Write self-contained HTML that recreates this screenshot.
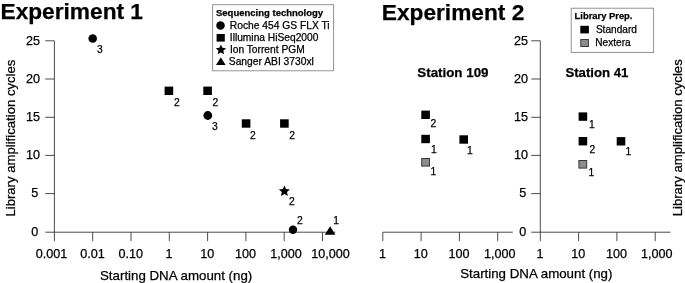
<!DOCTYPE html>
<html><head><meta charset="utf-8"><title>Experiment 1 / Experiment 2</title>
<style>html,body{margin:0;padding:0;background:#fff}svg{display:block}</style>
</head><body>
<svg width="685" height="283" viewBox="0 0 685 283" font-family="'Liberation Sans', sans-serif" fill="#000">
<rect width="685" height="283" fill="#fff"/>
<text x="0.50" y="19.40" font-size="22.7" text-anchor="start" font-weight="bold" stroke="#000" stroke-width="0.25" >Experiment 1</text>
<text x="381.80" y="19.60" font-size="22.7" text-anchor="start" font-weight="bold" stroke="#000" stroke-width="0.25" >Experiment 2</text>
<g stroke="#2a2a2a" stroke-width="0.85" fill="none">
<path d="M54.4 40.8 V232.2 M54.4 232.2 H335.5"/>
<path d="M45.3 40.8 H54.4"/>
<path d="M45.3 79.0 H54.4"/>
<path d="M45.3 117.3 H54.4"/>
<path d="M45.3 155.4 H54.4"/>
<path d="M45.3 193.6 H54.4"/>
<path d="M45.3 232.2 H54.4"/>
<path d="M54.40 232.2 V241.1"/>
<path d="M92.70 232.2 V241.1"/>
<path d="M131.00 232.2 V241.1"/>
<path d="M169.30 232.2 V241.1"/>
<path d="M207.60 232.2 V241.1"/>
<path d="M245.90 232.2 V241.1"/>
<path d="M284.20 232.2 V241.1"/>
<path d="M322.50 232.2 V241.1"/>
<path d="M540.3 40.8 V232.2 M540.3 232.2 H670.5"/>
<path d="M531.3 40.8 H540.3"/>
<path d="M531.3 79.0 H540.3"/>
<path d="M531.3 117.3 H540.3"/>
<path d="M531.3 155.4 H540.3"/>
<path d="M531.3 193.6 H540.3"/>
<path d="M531.3 232.2 H540.3"/>
<path d="M382.8 232.2 H512.8"/>
<path d="M382.80 232.2 V241.1"/>
<path d="M421.10 232.2 V241.1"/>
<path d="M459.40 232.2 V241.1"/>
<path d="M497.70 232.2 V241.1"/>
<path d="M540.30 232.2 V241.1"/>
<path d="M578.60 232.2 V241.1"/>
<path d="M616.90 232.2 V241.1"/>
<path d="M655.20 232.2 V241.1"/>
</g>
<text x="39.90" y="44.80" font-size="12.6" text-anchor="end" font-weight="normal" stroke="#000" stroke-width="0.25" >25</text>
<text x="527.90" y="44.80" font-size="12.6" text-anchor="end" font-weight="normal" stroke="#000" stroke-width="0.25" >25</text>
<text x="39.90" y="83.00" font-size="12.6" text-anchor="end" font-weight="normal" stroke="#000" stroke-width="0.25" >20</text>
<text x="527.90" y="83.00" font-size="12.6" text-anchor="end" font-weight="normal" stroke="#000" stroke-width="0.25" >20</text>
<text x="39.90" y="121.20" font-size="12.6" text-anchor="end" font-weight="normal" stroke="#000" stroke-width="0.25" >15</text>
<text x="527.90" y="121.20" font-size="12.6" text-anchor="end" font-weight="normal" stroke="#000" stroke-width="0.25" >15</text>
<text x="39.90" y="159.20" font-size="12.6" text-anchor="end" font-weight="normal" stroke="#000" stroke-width="0.25" >10</text>
<text x="527.90" y="159.20" font-size="12.6" text-anchor="end" font-weight="normal" stroke="#000" stroke-width="0.25" >10</text>
<text x="38.30" y="197.30" font-size="12.6" text-anchor="end" font-weight="normal" stroke="#000" stroke-width="0.25" >5</text>
<text x="526.30" y="197.30" font-size="12.6" text-anchor="end" font-weight="normal" stroke="#000" stroke-width="0.25" >5</text>
<text x="38.30" y="235.90" font-size="12.6" text-anchor="end" font-weight="normal" stroke="#000" stroke-width="0.25" >0</text>
<text x="526.30" y="235.90" font-size="12.6" text-anchor="end" font-weight="normal" stroke="#000" stroke-width="0.25" >0</text>
<text x="51.40" y="257.60" font-size="12.6" text-anchor="middle" font-weight="normal" stroke="#000" stroke-width="0.25" >0.001</text>
<text x="92.40" y="257.60" font-size="12.6" text-anchor="middle" font-weight="normal" stroke="#000" stroke-width="0.25" >0.01</text>
<text x="130.70" y="257.60" font-size="12.6" text-anchor="middle" font-weight="normal" stroke="#000" stroke-width="0.25" >0.10</text>
<text x="169.00" y="257.60" font-size="12.6" text-anchor="middle" font-weight="normal" stroke="#000" stroke-width="0.25" >1</text>
<text x="207.30" y="257.60" font-size="12.6" text-anchor="middle" font-weight="normal" stroke="#000" stroke-width="0.25" >10</text>
<text x="245.60" y="257.60" font-size="12.6" text-anchor="middle" font-weight="normal" stroke="#000" stroke-width="0.25" >100</text>
<text x="285.90" y="257.60" font-size="12.6" text-anchor="middle" font-weight="normal" stroke="#000" stroke-width="0.25" >1,000</text>
<text x="330.50" y="257.60" font-size="12.6" text-anchor="middle" font-weight="normal" stroke="#000" stroke-width="0.25" >10,000</text>
<text x="382.50" y="257.60" font-size="12.6" text-anchor="middle" font-weight="normal" stroke="#000" stroke-width="0.25" >1</text>
<text x="540.00" y="257.60" font-size="12.6" text-anchor="middle" font-weight="normal" stroke="#000" stroke-width="0.25" >1</text>
<text x="420.80" y="257.60" font-size="12.6" text-anchor="middle" font-weight="normal" stroke="#000" stroke-width="0.25" >10</text>
<text x="578.30" y="257.60" font-size="12.6" text-anchor="middle" font-weight="normal" stroke="#000" stroke-width="0.25" >10</text>
<text x="459.10" y="257.60" font-size="12.6" text-anchor="middle" font-weight="normal" stroke="#000" stroke-width="0.25" >100</text>
<text x="616.60" y="257.60" font-size="12.6" text-anchor="middle" font-weight="normal" stroke="#000" stroke-width="0.25" >100</text>
<text x="499.80" y="257.60" font-size="12.6" text-anchor="middle" font-weight="normal" stroke="#000" stroke-width="0.25" >1,000</text>
<text x="656.70" y="257.60" font-size="12.6" text-anchor="middle" font-weight="normal" stroke="#000" stroke-width="0.25" >1,000</text>
<text x="100.00" y="279.80" font-size="13.3" text-anchor="start" font-weight="normal" stroke="#000" stroke-width="0.25" >Starting DNA amount (ng)</text>
<text x="460.20" y="278.10" font-size="13.3" text-anchor="start" font-weight="normal" stroke="#000" stroke-width="0.25" >Starting DNA amount (ng)</text>
<text transform="translate(14.7,216.6) rotate(-90)" font-size="13.15" stroke="#000" stroke-width="0.25">Library amplification cycles</text>
<text transform="translate(681.9,216.3) rotate(-90)" font-size="13.15" stroke="#000" stroke-width="0.25">Library amplification cycles</text>
<circle cx="92.70" cy="38.55" r="4.3" fill="#000"/>
<text x="97.10" y="52.80" font-size="10.3" text-anchor="start" font-weight="normal" stroke="#000" stroke-width="0.25" >3</text>
<rect x="164.60" y="86.60" width="8.60" height="8.40" fill="#000"/>
<text x="174.00" y="105.60" font-size="10.3" text-anchor="start" font-weight="normal" stroke="#000" stroke-width="0.25" >2</text>
<rect x="203.30" y="86.60" width="8.60" height="8.40" fill="#000"/>
<text x="212.50" y="105.60" font-size="10.3" text-anchor="start" font-weight="normal" stroke="#000" stroke-width="0.25" >2</text>
<circle cx="207.80" cy="115.50" r="4.4" fill="#000"/>
<text x="211.90" y="129.90" font-size="10.3" text-anchor="start" font-weight="normal" stroke="#000" stroke-width="0.25" >3</text>
<rect x="241.80" y="119.30" width="8.60" height="8.40" fill="#000"/>
<text x="250.10" y="139.00" font-size="10.3" text-anchor="start" font-weight="normal" stroke="#000" stroke-width="0.25" >2</text>
<rect x="280.10" y="119.30" width="8.60" height="8.40" fill="#000"/>
<text x="289.20" y="139.00" font-size="10.3" text-anchor="start" font-weight="normal" stroke="#000" stroke-width="0.25" >2</text>
<polygon points="284.40,185.40 286.00,188.99 289.92,189.41 286.99,192.04 287.81,195.89 284.40,193.93 280.99,195.89 281.81,192.04 278.88,189.41 282.80,188.99" fill="#000"/>
<text x="289.00" y="204.80" font-size="10.3" text-anchor="start" font-weight="normal" stroke="#000" stroke-width="0.25" >2</text>
<circle cx="293.00" cy="229.80" r="4.2" fill="#000"/>
<text x="297.00" y="224.20" font-size="10.3" text-anchor="start" font-weight="normal" stroke="#000" stroke-width="0.25" >2</text>
<polygon points="324.80,234.80 335.40,234.80 330.10,226.20" fill="#000"/>
<text x="333.20" y="224.40" font-size="10.3" text-anchor="start" font-weight="normal" stroke="#000" stroke-width="0.25" >1</text>
<rect x="212.6" y="4.7" width="121" height="66.1" fill="#fff" stroke="#888" stroke-width="0.9"/>
<text x="216.00" y="15.70" font-size="9.5" text-anchor="start" font-weight="bold" stroke="#000" stroke-width="0.25" >Sequencing technology</text>
<circle cx="220.50" cy="25.40" r="4.25" fill="#000"/>
<text x="229.80" y="29.30" font-size="10.28" text-anchor="start" font-weight="normal" stroke="#000" stroke-width="0.25" >Roche 454 GS FLX Ti</text>
<rect x="216.60" y="34.00" width="8.20" height="7.60" fill="#000"/>
<text x="229.80" y="41.40" font-size="10.22" text-anchor="start" font-weight="normal" stroke="#000" stroke-width="0.25" >Illumina HiSeq2000</text>
<polygon points="220.90,44.50 222.39,47.85 226.04,48.23 223.31,50.68 224.07,54.27 220.90,52.44 217.73,54.27 218.49,50.68 215.76,48.23 219.41,47.85" fill="#000"/>
<text x="229.90" y="53.20" font-size="10.22" text-anchor="start" font-weight="normal" stroke="#000" stroke-width="0.25" >Ion Torrent PGM</text>
<polygon points="216.00,64.90 225.60,64.90 220.80,57.30" fill="#000"/>
<text x="228.80" y="65.00" font-size="10.28" text-anchor="start" font-weight="normal" stroke="#000" stroke-width="0.25" >Sanger ABI 3730xl</text>
<rect x="571.2" y="8.2" width="82.4" height="44.2" fill="#fff" stroke="#888" stroke-width="0.9"/>
<text x="574.60" y="18.60" font-size="9.4" text-anchor="start" font-weight="bold" stroke="#000" stroke-width="0.25" >Library Prep.</text>
<rect x="580.30" y="25.80" width="8.60" height="7.60" fill="#000"/>
<text x="595.90" y="33.20" font-size="10.1" text-anchor="start" font-weight="normal" stroke="#000" stroke-width="0.25" >Standard</text>
<rect x="580.80" y="39.50" width="7.60" height="7.00" fill="#8c8c8c" stroke="#3a3a3a" stroke-width="1"/>
<text x="595.30" y="46.00" font-size="10.1" text-anchor="start" font-weight="normal" stroke="#000" stroke-width="0.25" >Nextera</text>
<text x="417.30" y="76.80" font-size="13.35" text-anchor="start" font-weight="bold" stroke="#000" stroke-width="0.25" >Station 109</text>
<text x="565.40" y="76.80" font-size="13.2" text-anchor="start" font-weight="bold" stroke="#000" stroke-width="0.25" >Station 41</text>
<rect x="421.30" y="110.60" width="8.60" height="8.40" fill="#000"/>
<text x="430.40" y="126.90" font-size="10.3" text-anchor="start" font-weight="normal" stroke="#000" stroke-width="0.25" >2</text>
<rect x="421.30" y="134.80" width="8.60" height="8.40" fill="#000"/>
<text x="430.90" y="153.30" font-size="10.3" text-anchor="start" font-weight="normal" stroke="#000" stroke-width="0.25" >1</text>
<rect x="459.40" y="135.30" width="8.60" height="8.40" fill="#000"/>
<text x="467.10" y="154.00" font-size="10.3" text-anchor="start" font-weight="normal" stroke="#000" stroke-width="0.25" >1</text>
<rect x="421.70" y="158.50" width="7.80" height="7.60" fill="#8c8c8c" stroke="#3a3a3a" stroke-width="1"/>
<text x="430.40" y="174.60" font-size="10.3" text-anchor="start" font-weight="normal" stroke="#000" stroke-width="0.25" >1</text>
<rect x="578.60" y="112.40" width="8.60" height="8.40" fill="#000"/>
<text x="589.00" y="127.60" font-size="10.3" text-anchor="start" font-weight="normal" stroke="#000" stroke-width="0.25" >1</text>
<rect x="578.60" y="137.00" width="8.60" height="8.40" fill="#000"/>
<text x="589.60" y="152.60" font-size="10.3" text-anchor="start" font-weight="normal" stroke="#000" stroke-width="0.25" >2</text>
<rect x="616.70" y="137.10" width="8.60" height="8.40" fill="#000"/>
<text x="625.40" y="155.30" font-size="10.3" text-anchor="start" font-weight="normal" stroke="#000" stroke-width="0.25" >1</text>
<rect x="578.90" y="160.50" width="7.80" height="7.60" fill="#8c8c8c" stroke="#3a3a3a" stroke-width="1"/>
<text x="588.50" y="176.00" font-size="10.3" text-anchor="start" font-weight="normal" stroke="#000" stroke-width="0.25" >1</text>
</svg>
</body></html>
